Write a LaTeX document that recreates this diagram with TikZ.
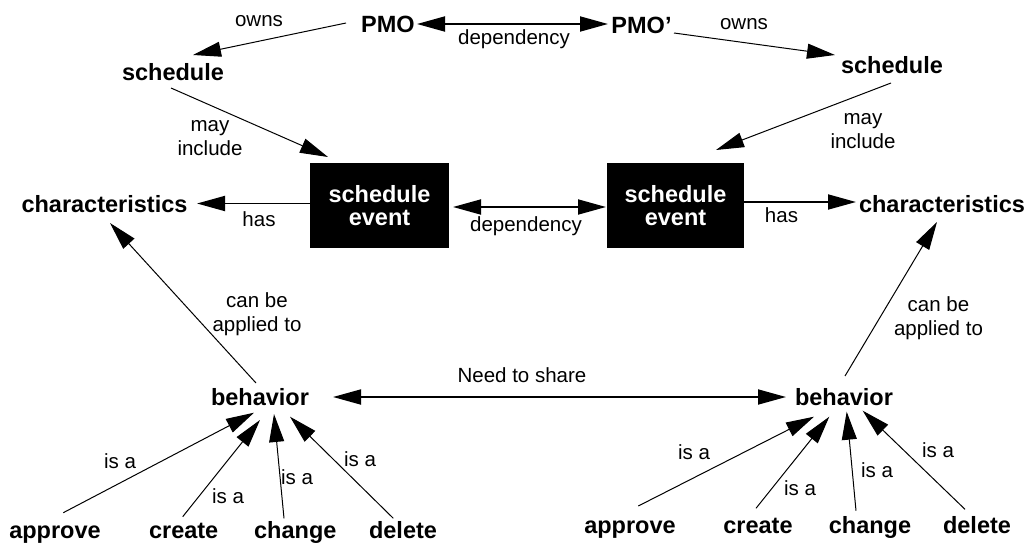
\documentclass[tikz,border=0pt]{standalone}
\usepackage{fontspec}
\setmainfont{Liberation Sans}
\usetikzlibrary{arrows.meta}
\begin{document}
\begin{tikzpicture}[x=1pt,y=-1pt,
  concept/.style={font=\fontsize{23.5}{26}\selectfont\bfseries, inner sep=0pt, outer sep=0pt, anchor=base},
  rel/.style={font=\fontsize{20.5}{24}\selectfont, inner sep=0pt, outer sep=0pt, align=center},
  eventbox/.style={fill=black, text=white, font=\fontsize{23.5}{22.3}\selectfont\bfseries,
    minimum width=139pt, minimum height=85pt, inner sep=0pt, align=center},
  bigtip/.tip={Triangle[length=28pt,width=15pt]},
  link/.style={line width=1pt, -bigtip},
  hlink/.style={line width=1.8pt, -bigtip},
  twoway/.style={line width=1.8pt, bigtip-bigtip},
]
\useasboundingbox (0,0) rectangle (1029,546);

% --- organisations and their schedules
\node[concept] (pmo)  at (388,32)   {PMO};
\node[concept] (pmoB) at (641.5,34) {PMO’};
\node[concept] (schA) at (173,80)   {schedule};
\node[concept] (schB) at (892,73)   {schedule};

% --- schedule events
\node[eventbox] (evA) at (379.5,205.5) {schedule\\event};
\node[eventbox, minimum width=137pt] (evB) at (675.5,205.5) {schedule\\event};

% --- characteristics and behaviours
\node[concept] (chA)  at (104.5,212.5) {characteristics};
\node[concept] (chB)  at (942,212)     {characteristics};
\node[concept] (behA) at (260,405)     {behavior};
\node[concept] (behB) at (844,405)     {behavior};

% --- kinds of behaviour
\node[concept] (apA)  at (55,538.5)    {approve};
\node[concept] (crA)  at (183.7,538.5) {create};
\node[concept] (chgA) at (295.3,538.5) {change};
\node[concept] (delA) at (403,538.5)   {delete};
\node[concept] (apB)  at (630,533.3)   {approve};
\node[concept] (crB)  at (758,533.3)   {create};
\node[concept] (chgB) at (870,533.3)   {change};
\node[concept] (delB) at (977,533.3)   {delete};

% --- relation labels
\node[rel, anchor=base] (lOwnsA) at (259,27)  {owns};
\node[rel, anchor=base] (lOwnsB) at (744,30)  {owns};
\node[rel, anchor=base] (lDep1)  at (514,45)  {dependency};
\node[rel] (lMayA) at (210,138) {may\\include};
\node[rel] (lMayB) at (863,131) {may\\include};
\node[rel, anchor=base] (lHasA) at (259,226)   {has};
\node[rel, anchor=base] (lHasB) at (781.5,222) {has};
\node[rel, anchor=base] (lDep2) at (526,231)   {dependency};
\node[rel] (lCanA) at (257,314)   {can be\\applied to};
\node[rel] (lCanB) at (938.5,318.5) {can be\\applied to};
\node[rel, anchor=base] (lShare) at (522,382) {Need to share};
\node[rel] (lIsA1) at (120,461) {is a};
\node[rel] (lIsA2) at (228,496) {is a};
\node[rel] (lIsA3) at (297,477) {is a};
\node[rel] (lIsA4) at (360,459) {is a};
\node[rel] (lIsB1) at (694,452) {is a};
\node[rel] (lIsB2) at (800,488) {is a};
\node[rel] (lIsB3) at (877,470) {is a};
\node[rel] (lIsB4) at (938,450) {is a};

% --- connectors
\draw[twoway] ([shift={(29,-8)}]pmo.base) -- ([shift={(-33.5,-10)}]pmoB.base);
\draw[link] ([shift={(-42,-9)}]pmo.base) -- ([shift={(20,-25)}]schA.base);
\draw[link] ([shift={(32.5,-1)}]pmoB.base) -- ([shift={(-57,-18)}]schB.base);
\draw[link] ([shift={(-2,8)}]schA.base) -- ([shift={(-51.5,-48.5)}]evA.center);
\draw[link] ([shift={(-1,10)}]schB.base) -- ([shift={(40.5,-55.5)}]evB.center);
\draw[hlink] ([shift={(-69.5,-2)}]evA.center) -- ([shift={(92.5,-9)}]chA.base);
\draw[hlink] ([shift={(68.5,-3.5)}]evB.center) -- ([shift={(-86,-10)}]chB.base);
\draw[twoway] ([shift={(73.5,1.5)}]evA.center) -- ([shift={(-69.5,1.5)}]evB.center);
\draw[link] ([shift={(-4,-22)}]behA.base) -- ([shift={(5.5,10.5)}]chA.base);
\draw[link] ([shift={(1,-29)}]behB.base) -- ([shift={(-5,10)}]chB.base);
\draw[twoway] ([shift={(73,-8)}]behA.base) -- ([shift={(-58,-8)}]behB.base);

\draw[link] ([shift={(8.3,-25.8)}]apA.base)   -- ([shift={(-6,7.7)}]behA.base);
\draw[link] ([shift={(-1,-21.8)}]crA.base)    -- ([shift={(0,15)}]behA.base);
\draw[link] ([shift={(-11.3,-20.2)}]chgA.base) -- ([shift={(14,9)}]behA.base);
\draw[link] ([shift={(-9.7,-20.2)}]delA.base) -- ([shift={(30,11.7)}]behA.base);

\draw[link] ([shift={(8.3,-27.3)}]apB.base)   -- ([shift={(-30,11.7)}]behB.base);
\draw[link] ([shift={(-2,-25)}]crB.base)      -- ([shift={(-14.7,11.7)}]behB.base);
\draw[link] ([shift={(-14,-22.6)}]chgB.base)  -- ([shift={(2.7,6.7)}]behB.base);
\draw[link] ([shift={(-12,-24)}]delB.base)    -- ([shift={(18.7,5.7)}]behB.base);
\end{tikzpicture}
\end{document}
